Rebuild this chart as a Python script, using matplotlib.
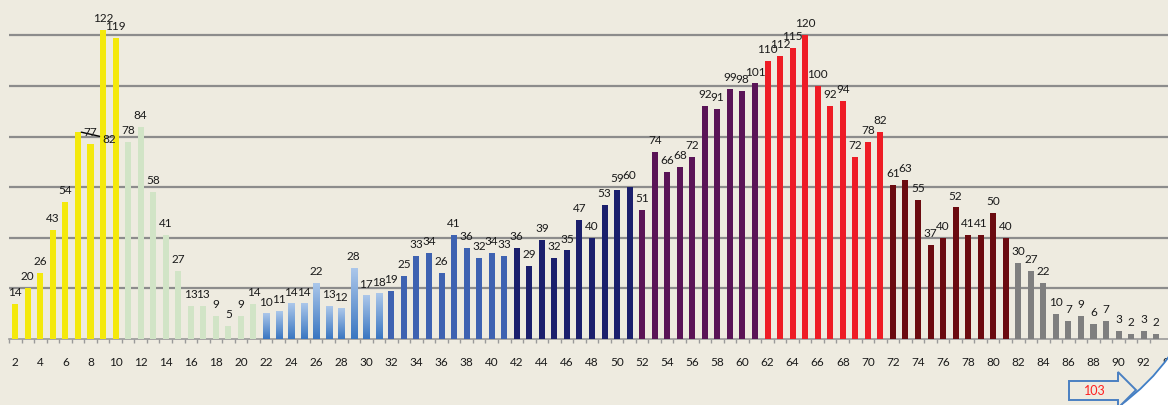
import matplotlib
matplotlib.use("Agg")
import matplotlib.pyplot as plt
import numpy as np
from matplotlib.colors import LinearSegmentedColormap
from matplotlib.patches import Polygon, PathPatch
from matplotlib.path import Path

# categories 2..93, one bar each
categories = list(range(2, 94))
values = [
    14, 20, 26, 43, 54, 82, 77, 122, 119,          # 2-10
    78, 84, 58, 41, 27, 13, 13, 9, 5, 9, 14,       # 11-21
    10, 11, 14, 14, 22, 13, 12, 28, 17, 18,        # 22-31
    19, 25, 33, 34, 26, 41, 36, 32, 34, 33,        # 32-41
    36, 29, 39, 32, 35, 47, 40, 53, 59, 60,        # 42-51
    51, 74, 66, 68, 72, 92, 91, 99, 98, 101,       # 52-61
    110, 112, 115, 120, 100, 92, 94, 72, 78, 82,   # 62-71
    61, 63, 55, 37, 40, 52, 41, 41, 50, 40,        # 72-81
    30, 27, 22, 10, 7, 9, 6, 7, 3, 2, 3, 2,        # 82-93
]
tick_labels = list(range(2, 96, 2))

# first category of each colour band
band_starts = [2, 11, 22, 32, 42, 52, 62, 72, 82]
band_colors = ["#f4e90c", "#d1e4c6", "gradient", "#3e62b1", "#1b1f6c",
               "#5a1457", "#ee1c25", "#6b0b10", "#7f7f7f"]

BG = "#eeebe0"
plt.rcParams["font.family"] = ["Lato", "DejaVu Sans"]

fig = plt.figure(figsize=(11.68, 4.06), dpi=100, facecolor=BG)
ax = fig.add_axes([9 / 1168, 66 / 406, 1166 / 1168, 340 / 406])
ax.set_facecolor(BG)

def band_color(c):
    col = band_colors[0]
    for s, bc in zip(band_starts, band_colors):
        if c >= s:
            col = bc
    return col

width = 0.48
grad_cmap = LinearSegmentedColormap.from_list("lb", ["#3a76c1", "#abc7ea"])
grad = np.linspace(0, 1, 64).reshape(-1, 1)

for c, v in zip(categories, values):
    col = band_color(c)
    if col == "gradient":
        ax.imshow(grad, extent=[c - width / 2, c + width / 2, 0, v], origin="lower",
                  aspect="auto", cmap=grad_cmap, zorder=3)
    else:
        ax.bar(c, v, width=width, color=col, zorder=3)

ax.set_xlim(1.5, 94.5)
ax.set_ylim(0, 134.4)

for y in range(20, 121, 20):
    ax.axhline(y, color="#8c8c8c", lw=1.6, zorder=1)

# data labels
for c, v in zip(categories, values):
    if c == 7:
        ax.annotate(str(v), xy=(c + 0.05, v), xytext=(22, -5), textcoords="offset points",
                    ha="center", va="center", fontsize=8.5, color="#1a1a1a", zorder=5,
                    arrowprops=dict(arrowstyle="-", color="black", lw=1, shrinkA=0, shrinkB=2))
    else:
        ax.annotate(str(v), xy=(c, v), xytext=(0, 5), textcoords="offset points",
                    ha="center", va="bottom", fontsize=8.5, color="#1a1a1a",
                    zorder=5, annotation_clip=False)

for s in ["top", "right", "left"]:
    ax.spines[s].set_visible(False)
ax.spines["bottom"].set_color("#9a9a9a")
ax.spines["bottom"].set_linewidth(1.2)
ax.set_yticks([])
ax.set_xticks(tick_labels)
ax.set_xticklabels([str(t) for t in tick_labels], fontsize=8.5, color="#1a1a1a")
ax.tick_params(axis="x", which="major", length=0, pad=12.5)
ax.set_xticks([c + 0.5 for c in categories[:-1]] + [1.5], minor=True)
ax.tick_params(axis="x", which="minor", length=3, color="#9a9a9a", width=1)

# page curl in the bottom-right corner
def fx(px):
    return px / 1168

def fy(py):
    return (406 - py) / 406

curl = Path([(fx(1118), fy(408)), (fx(1150), fy(385)), (fx(1170), fy(356)),
             (fx(1170), fy(408)), (fx(1118), fy(408))],
            [Path.MOVETO, Path.CURVE3, Path.CURVE3, Path.LINETO, Path.CLOSEPOLY])
fig.patches.append(PathPatch(curl, transform=fig.transFigure, facecolor="white",
                             edgecolor="none", zorder=1))
edge = Path([(fx(1118), fy(408)), (fx(1150), fy(385)), (fx(1170), fy(356))],
            [Path.MOVETO, Path.CURVE3, Path.CURVE3])
fig.patches.append(PathPatch(edge, transform=fig.transFigure, facecolor="none",
                             edgecolor="#3f7ec6", lw=1.3, zorder=2))

# "103" arrow box
arrow_pts = [(1069, 382), (1118, 382), (1118, 373), (1136, 391), (1118, 409),
             (1118, 401), (1069, 401)]
fig.patches.append(Polygon([(fx(x), fy(y)) for x, y in arrow_pts], closed=True,
                           transform=fig.transFigure, facecolor=BG,
                           edgecolor="#4a80c2", lw=1.4, zorder=2))
fig.text(fx(1095), fy(391), "103", color="#ff1f1f", fontsize=9, ha="center", va="center")

fig.savefig("out.png", dpi=100, facecolor=BG)
